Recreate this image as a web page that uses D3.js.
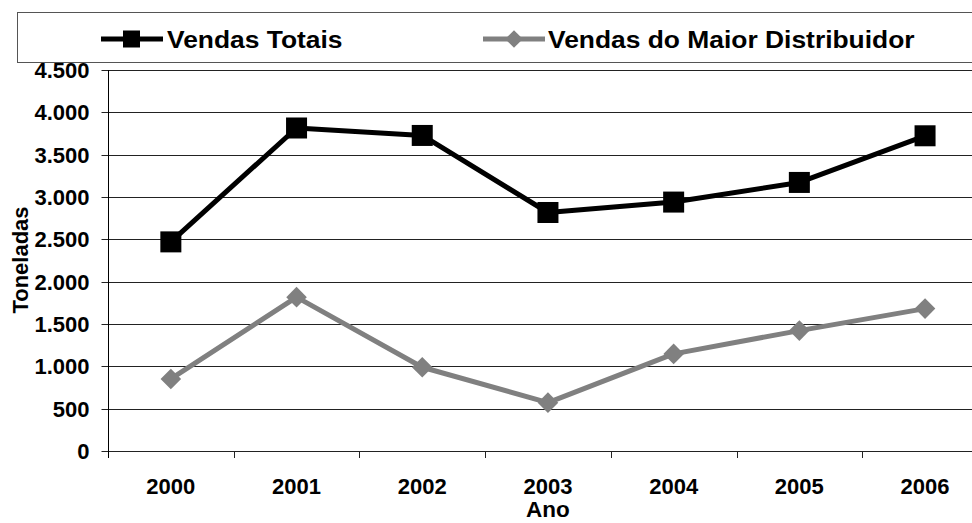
<!DOCTYPE html>
<html>
<head>
<meta charset="utf-8">
<script src="https://cdn.jsdelivr.net/npm/d3@7"></script>
<style>
  html, body { margin: 0; padding: 0; background: #fff; overflow: hidden; }
  text { font-family: "Liberation Sans", Arial, sans-serif; font-weight: bold; }
</style>
</head>
<body>
<svg id="chart" width="972" height="523"></svg>
<script>
const years = ["2000", "2001", "2002", "2003", "2004", "2005", "2006"];
const vendasTotais = [2470, 3815, 3727, 2817, 2940, 3172, 3723];
const vendasMaior = [851, 1817, 989, 571, 1147, 1422, 1682];
const yTicks = [0, 500, 1000, 1500, 2000, 2500, 3000, 3500, 4000, 4500];
const seriesNames = ["Vendas Totais", "Vendas do Maior Distribuidor"];
const yLabel = "Toneladas";
const xLabel = "Ano";

(function () {
const svg = d3.select("#chart");
const pLeft = 108, pTop = 70, pBottom = 451, bandW = 125.7;
const pRight = pLeft + bandW * years.length;

const x = d3.scaleBand().domain(years).range([pLeft, pRight]).padding(0);
const y = d3.scaleLinear().domain([0, 4500]).range([pBottom, pTop]);
const fmt = v => d3.format(",")(v).replace(/,/g, ".");
const yr = d => Math.round(y(d)) + 0.5;

// gridlines
svg.append("g").selectAll("line").data(yTicks).join("line")
  .attr("x1", pLeft).attr("x2", pRight)
  .attr("y1", yr).attr("y2", yr)
  .attr("stroke", "#222").attr("stroke-width", 1);

// y axis
const yAxis = svg.append("g").attr("transform", `translate(${pLeft + 0.5},0)`)
  .call(d3.axisLeft(y).tickValues(yTicks).tickFormat(fmt).tickSize(7).tickPadding(12));
yAxis.select(".domain").remove();
yAxis.selectAll(".tick").attr("transform", d => `translate(0,${yr(d)})`);
yAxis.selectAll(".tick line").attr("stroke", "#222");
yAxis.selectAll(".tick text").attr("font-size", 22).attr("fill", "#000")
  .attr("font-family", "Liberation Sans, Arial, sans-serif").attr("font-weight", "bold")
  .attr("dy", "0.36em");
svg.append("line").attr("x1", pLeft + 0.5).attr("x2", pLeft + 0.5)
  .attr("y1", pTop).attr("y2", pBottom + 7).attr("stroke", "#000");

// x axis ticks at band boundaries
const bounds = years.map(d => x(d)).concat([pRight]);
svg.append("g").selectAll("line").data(bounds.slice(1)).join("line")
  .attr("x1", d => Math.round(d) + 0.5).attr("x2", d => Math.round(d) + 0.5)
  .attr("y1", Math.round(pBottom)).attr("y2", pBottom + 7).attr("stroke", "#222");
svg.append("g").selectAll("text").data(years).join("text")
  .attr("x", d => x(d) + x.bandwidth() / 2).attr("y", 494)
  .attr("text-anchor", "middle").attr("font-size", 22).text(d => d);

// axis titles
svg.append("text").attr("transform", "translate(28,260) rotate(-90)")
  .attr("text-anchor", "middle").attr("font-size", 22).text(yLabel);
svg.append("text").attr("x", x("2003") + x.bandwidth() / 2).attr("y", 517)
  .attr("text-anchor", "middle").attr("font-size", 22.5).text(xLabel);

// lines
const cx = i => x(years[i]) + x.bandwidth() / 2;
const line = d3.line().x((d, i) => cx(i)).y(d => y(d));
svg.append("path").datum(vendasMaior).attr("d", line)
  .attr("fill", "none").attr("stroke", "#808080").attr("stroke-width", 5).attr("stroke-linejoin", "round");
svg.append("g").selectAll("path").data(vendasMaior).join("path")
  .attr("d", d3.symbol().type(d3.symbolDiamond2).size(270)())
  .attr("transform", (d, i) => `translate(${cx(i)},${y(d)})`)
  .attr("fill", "#808080");

svg.append("path").datum(vendasTotais).attr("d", line)
  .attr("fill", "none").attr("stroke", "#000").attr("stroke-width", 5).attr("stroke-linejoin", "round");
svg.append("g").selectAll("rect").data(vendasTotais).join("rect")
  .attr("x", (d, i) => cx(i) - 10.5)
  .attr("y", d => y(d) - 10.5).attr("width", 21).attr("height", 21)
  .attr("fill", "#000");

// legend
svg.append("rect").attr("x", 17.5).attr("y", 12.5).attr("width", 1000).attr("height", 50)
  .attr("fill", "#fff").attr("stroke", "#555").attr("stroke-width", 1);
const lg = svg.append("g");
lg.append("line").attr("x1", 101).attr("x2", 163).attr("y1", 39).attr("y2", 39)
  .attr("stroke", "#000").attr("stroke-width", 5);
lg.append("rect").attr("x", 123).attr("y", 30.5).attr("width", 17).attr("height", 17).attr("fill", "#000");
lg.append("text").attr("transform", "translate(167,47.5) scale(1.1,1)")
  .attr("font-size", 24).text(seriesNames[0]);
lg.append("line").attr("x1", 483).attr("x2", 545).attr("y1", 39).attr("y2", 39)
  .attr("stroke", "#808080").attr("stroke-width", 5);
lg.append("path").attr("d", d3.symbol().type(d3.symbolDiamond2).size(200)())
  .attr("transform", "translate(514,39)").attr("fill", "#808080");
lg.append("text").attr("transform", "translate(548,47.5) scale(1.1,1)")
  .attr("font-size", 24).text(seriesNames[1]);
})();
</script>
</body>
</html>
